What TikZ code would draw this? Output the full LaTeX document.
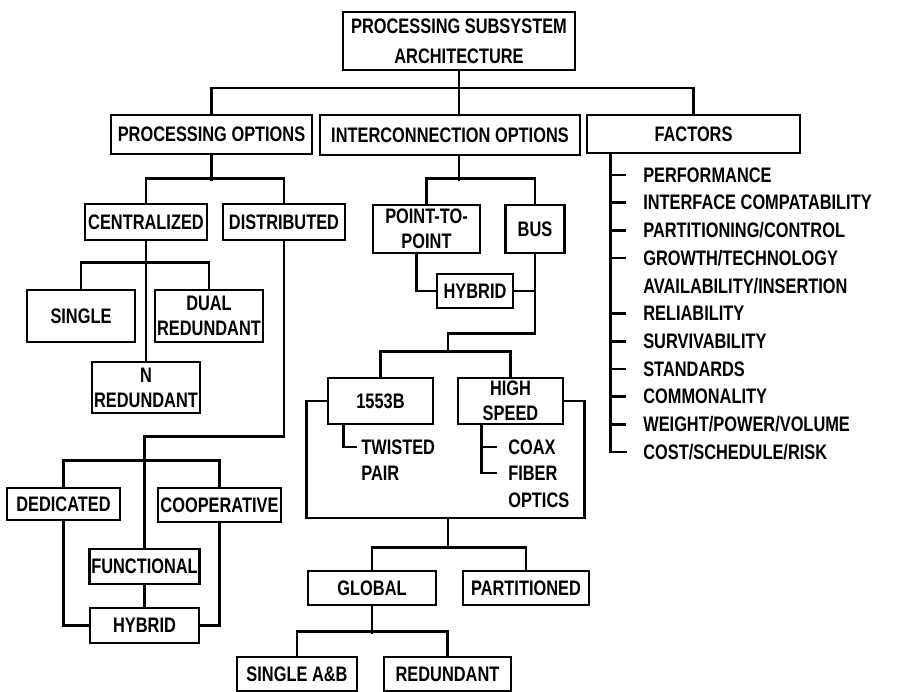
\documentclass[tikz,border=0pt]{standalone}
\usepackage{fontspec}
\setmainfont{Liberation Sans}[FakeStretch=0.78]
\begin{document}
\begin{tikzpicture}[x=0.5pt, y=-0.5pt, line width=1.3pt,
        every node/.style={font=\bfseries\fontsize{10.5}{12.5}\selectfont},
        box/.style={draw, align=center, inner sep=1pt},
        item/.style={anchor=west, inner sep=0pt}]
        \useasboundingbox (0,0) rectangle (897,691);
        \node[box, minimum width=116pt, minimum height=29pt, font=\bfseries\fontsize{10.5}{15}\selectfont] (arch) at (459,41) {PROCESSING SUBSYSTEM\\ARCHITECTURE};
        \node[box, minimum width=100.5pt, minimum height=19.5pt] (procopt) at (211.5,134.5) {PROCESSING OPTIONS};
        \node[box, minimum width=130pt, minimum height=20pt] (interopt) at (450,135) {INTERCONNECTION OPTIONS};
        \node[box, minimum width=106.5pt, minimum height=19pt] (factors) at (693.5,134) {FACTORS};
        \node[box, minimum width=61pt, minimum height=18pt] (central) at (146,222) {CENTRALIZED};
        \node[box, minimum width=61pt, minimum height=18pt] (distrib) at (284,222) {DISTRIBUTED};
        \node[box, minimum width=54pt, minimum height=26pt] (single) at (81,316) {SINGLE};
        \node[box, minimum width=51pt, minimum height=26pt] (dual) at (209,316) {DUAL\\REDUNDANT};
        \node[box, minimum width=53.5pt, minimum height=25.5pt] (nred) at (146,387.5) {N\\REDUNDANT};
        \node[box, minimum width=56.5pt, minimum height=16pt] (dedicated) at (63.5,504) {DEDICATED};
        \node[box, minimum width=61.5pt, minimum height=17pt] (coop) at (219.5,505) {COOPERATIVE};
        \node[box, minimum width=55pt, minimum height=17.5pt] (functional) at (144.5,566.5) {FUNCTIONAL};
        \node[box, minimum width=54.5pt, minimum height=17.5pt] (hybridA) at (144.5,625.5) {HYBRID};
        \node[box, minimum width=53.5pt, minimum height=24pt] (p2p) at (426.5,229) {POINT-TO-\\POINT};
        \node[box, minimum width=29.5pt, minimum height=24pt] (bus) at (535,229) {BUS};
        \node[box, minimum width=38pt, minimum height=17pt] (hybridB) at (475,291) {HYBRID};
        \node[box, minimum width=52.5pt, minimum height=23pt] (b1553) at (380.5,401) {1553B};
        \node[box, minimum width=52.5pt, minimum height=23pt] (hispeed) at (510.5,401) {HIGH\\SPEED};
        \node[box, minimum width=64pt, minimum height=17pt] (global) at (372,588) {GLOBAL};
        \node[box, minimum width=63pt, minimum height=17pt] (partitioned) at (526,588) {PARTITIONED};
        \node[box, minimum width=60pt, minimum height=17pt] (singleab) at (297,674) {SINGLE A\&B};
        \node[box, minimum width=63.5pt, minimum height=17pt] (redund) at (447.5,674) {REDUNDANT};

        \node[item] (twisted) at (360,447) {TWISTED};
        \node[item] (pair) at (360,473) {PAIR};
        \node[item] (coax) at (507,447) {COAX};
        \node[item] (fiber) at (507,473) {FIBER};
        \node[item] (optics) at (507,500) {OPTICS};
        \foreach \t [count=\i] in {PERFORMANCE, INTERFACE COMPATABILITY, PARTITIONING/CONTROL, GROWTH/TECHNOLOGY, AVAILABILITY/INSERTION, RELIABILITY, SURVIVABILITY, STANDARDS, COMMONALITY, WEIGHT/POWER/VOLUME, COST/SCHEDULE/RISK} {
            \node[item] (f\i) at (642,147.3+27.7*\i) {\t};
        }

        \coordinate (topbar) at (459,88);
        \draw (procopt.north) |- (topbar) -| (factors.north);
        \draw (arch.south) -- (arch.south |- interopt.north);

        \draw (procopt.south) -- ++(0,26);
        \draw (central.north) -- ++(0,-24) -| (distrib.north);
        \draw (central.south) -- (nred.north);
        \draw (single.north) -- ++(0,-26) -| (dual.north);
        \draw (distrib.south) -- ++(0,195) -| (functional.north);
        \draw (dedicated.north) -- ++(0,-26) -| (coop.north);
        \draw (functional.south) -- (hybridA.north);
        \draw (dedicated.south) |- (hybridA.west);
        \draw (coop.south) |- (hybridA.east);

        \draw (arch.south |- interopt.south) -- ++(0,25);
        \draw (p2p.north) -- ++(0,-25) -| (bus.north);
        \draw ([xshift=-5pt]p2p.south) |- (hybridB.west);
        \draw (hybridB.east) -- (bus.south |- hybridB.east);
        \coordinate (busbar) at (448,353);
        \draw (bus.south) -- ++(0,79) -| (busbar);
        \draw (b1553.north) -- ++(0,-25) -| (hispeed.north);
        \draw (b1553.west) -- ++(-20,0) |- ++(278,117) |- (hispeed.east);
        \draw ([xshift=8.5pt]b1553.south west) |- ([xshift=-1.5pt]twisted.west);
        \coordinate (hsstem) at ([xshift=12.5pt]hispeed.south west);
        \draw (hsstem) |- ([xshift=-5pt]fiber.west);
        \draw (hsstem |- coax.west) -- ([xshift=-5pt]coax.west);

        \coordinate (enclbot) at (448,518);
        \draw (enclbot) -- ++(0,31);
        \draw (global.north) -- ++(0,-22) -| (partitioned.north);
        \draw (global.south) -- ++(0,28);
        \draw (singleab.north) -- ++(0,-24) -| (redund.north);

        \coordinate (fstem) at ([xshift=12.5pt]factors.south west);
        \draw (fstem) |- ([xshift=-7.5pt]f11.west);
        \foreach \i in {1,2,3,4,6,7,8,9,10} \draw (fstem |- f\i.west) -- ++(15,0);
    \end{tikzpicture}
\end{document}
